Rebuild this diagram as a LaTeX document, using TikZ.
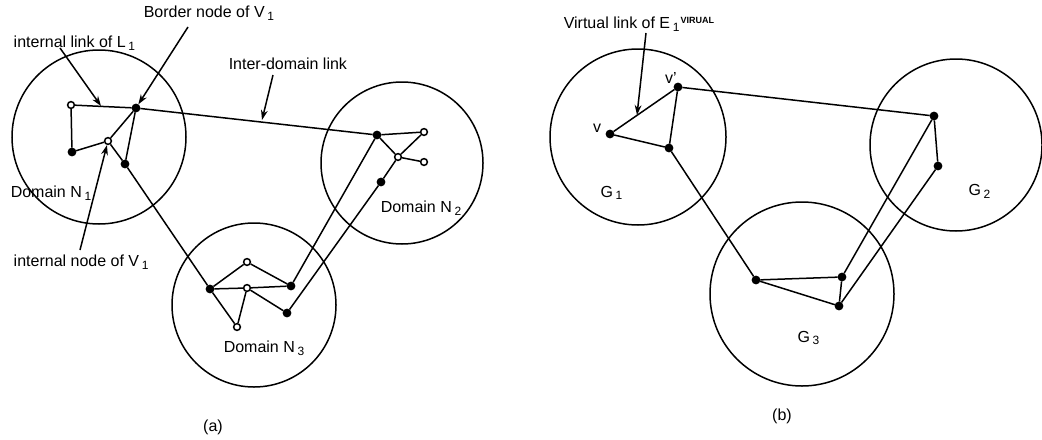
\documentclass[tikz,border=0pt]{standalone}
\usepackage{fontspec}
\setmainfont{Liberation Sans}
\usetikzlibrary{arrows.meta}
\begin{document}
\begin{tikzpicture}[x=0.5pt,y=-0.5pt,line width=0.75pt]
          \tikzstyle{every node}=[font=\fontsize{8}{9}\selectfont];
          \tikzstyle{full}=[draw,fill,shape=circle,inner sep=0pt,minimum size=3.6pt];
          \tikzstyle{hollow}=[draw,fill=white,shape=circle,inner sep=0pt,minimum size=3.4pt];
          \tikzstyle{pointer}=[-{Stealth[length=5pt,width=3.4pt]}];
          \tikzstyle{txt}=[anchor=west,inner sep=0pt];
          \useasboundingbox (0,0) rectangle (1042,439);
          % (a) domains
          \draw (99,137) circle (87);
          \draw (402,163) circle (81);
          \draw (254,305) circle (82);
          \node[hollow] (a1) at (71,105) {};
          \node[full] (b1) at (136,108) {};
          \node[full] (c1) at (72,152) {};
          \node[hollow] (d1) at (108,141) {};
          \node[full] (e1) at (125,164) {};
          \node[full] (b2) at (377,135) {};
          \node[hollow] (g2) at (424,132) {};
          \node[hollow] (h2) at (398,157) {};
          \node[hollow] (i2) at (424,162) {};
          \node[full] (j2) at (381,182) {};
          \node[full] (k3) at (210,289) {};
          \node[hollow] (l3) at (247,262) {};
          \node[hollow] (m3) at (247,288) {};
          \node[full] (p3) at (291,286) {};
          \node[hollow] (q3) at (237,327) {};
          \node[full] (r3) at (287,313) {};
          \draw (a1)--(b1);
          \draw (a1)--(c1);
          \draw (c1)--(d1);
          \draw (d1)--(b1);
          \draw (b1)--(e1);
          \draw (d1)--(e1);
          \draw (e1)--(k3);
          \draw (b1)--(b2);
          \draw (b2)--(g2);
          \draw (b2)--(h2);
          \draw (h2)--(g2);
          \draw (h2)--(i2);
          \draw (h2)--(j2);
          \draw (k3)--(l3);
          \draw (l3)--(p3);
          \draw (k3)--(m3);
          \draw (m3)--(p3);
          \draw (k3)--(q3);
          \draw (q3)--(m3);
          \draw (m3)--(r3);
          \draw (p3)--(b2);
          \draw (r3)--(j2);
          % labels and pointers
          \node[txt] (linklabel) at (13,43) {internal link of L\,\textsubscript{1}};
          \node[txt] (borderlabel) at (143,13) {Border node of V\,\textsubscript{1}};
          \node[txt] (interlabel) at (228,64) {Inter-domain link};
          \node[txt] (nodelabel) at (13,262) {internal node of V\,\textsubscript{1}};
          \node[txt] (n1label) at (10,193) {Domain N\,\textsubscript{1}};
          \node[txt] (n2label) at (380,208) {Domain N\,\textsubscript{2}};
          \node[txt] (n3label) at (223,348) {Domain N\,\textsubscript{3}};
          \node (alabel) at (213,427) {(a)};
          \coordinate (linkfrom) at (60,48);
          \coordinate (linkto) at (101,106);
          \coordinate (borderfrom) at (188,27);
          \coordinate (interfrom) at (273,75);
          \coordinate (interto) at (262,120);
          \coordinate (nodefrom) at (80,250);
          \draw[pointer] (linkfrom)--(linkto);
          \draw[pointer] (borderfrom)--(b1);
          \draw[pointer] (interfrom)--(interto);
          \draw[pointer] (nodefrom)--(d1);
          % (b) virtual graph
          \draw (638,137) circle (88);
          \draw (956,145) circle (86);
          \draw (802,294) circle (92);
          \node[full] (v) at (610,134) {};
          \node[full] (vp) at (678,87) {};
          \node[full] (s1) at (669,148) {};
          \node[full] (t2) at (934,116) {};
          \node[full] (u2) at (938,166) {};
          \node[full] (y3) at (756,280) {};
          \node[full] (w3) at (842,277) {};
          \node[full] (x3) at (839,306) {};
          \draw (v)--(vp);
          \draw (v)--(s1);
          \draw (vp)--(s1);
          \draw (vp)--(t2);
          \draw (t2)--(u2);
          \draw (s1)--(y3);
          \draw (y3)--(w3);
          \draw (y3)--(x3);
          \draw (w3)--(x3);
          \draw (w3)--(t2);
          \draw (x3)--(u2);
          \node (vlabel) at (597,128) {v};
          \node (vplabel) at (671,78) {v'};
          \node (g1label) at (612,193) {G\,\textsubscript{1}};
          \node (g2label) at (980,191) {G\,\textsubscript{2}};
          \node (g3label) at (809,338) {G\,\textsubscript{3}};
          \node (blabel) at (782,416) {(b)};
          \node[txt] (virtlabel) at (563,24) {Virtual link of E\,\textsubscript{1}\raisebox{0.6ex}{\fontsize{4.5}{5}\selectfont\bfseries VIRUAL}};
          \coordinate (virtfrom) at (646,33);
          \coordinate (virtto) at (637,115);
          \draw[pointer] (virtfrom)--(virtto);
      \end{tikzpicture}
\end{document}
